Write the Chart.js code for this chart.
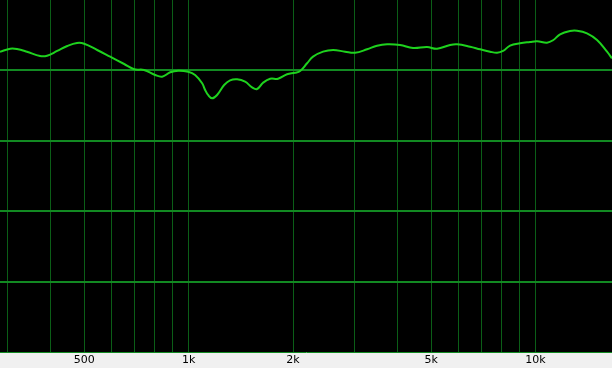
<!DOCTYPE html>
<html>
<head>
<meta charset="utf-8">
<script src="https://cdn.jsdelivr.net/npm/chart.js@4.4.0/dist/chart.umd.min.js"></script>
<style>
  html, body { margin: 0; padding: 0; background: #f0f0f0; }
  canvas { display: block; }
</style>
</head>
<body>
<canvas id="chart-resposta" width="612" height="368"></canvas>
<script>
// frequencias (Hz) e nivel (dB)
const freqs = [286, 306, 320, 342, 373, 391, 418, 447, 477, 500, 545, 594, 652, 697, 744,
  801, 839, 885, 933, 997, 1044, 1094, 1116, 1138, 1169, 1208, 1266, 1317, 1380, 1455,
  1524, 1575, 1639, 1718, 1811, 1922, 2027, 2096, 2195, 2284, 2441, 2609, 2825, 3018,
  3269, 3493, 3733, 4070, 4436, 4868, 5202, 5671, 5940, 6477, 6921, 7394, 7747, 8061,
  8444, 9022, 9641, 10100, 10790, 11230, 11770, 12570, 13170, 14070, 15040, 16070, 16610];
const nivel = [42.66, 43.08, 43.04, 42.66, 42.05, 42.09, 42.76, 43.47, 43.89, 43.79, 42.90,
  41.95, 40.91, 40.16, 40.06, 39.35, 39.11, 39.73, 39.96, 39.81, 39.35, 38.17, 37.22, 36.51,
  36.04, 36.51, 37.93, 38.59, 38.74, 38.39, 37.60, 37.36, 38.25, 38.82, 38.82, 39.45, 39.67,
  39.91, 41.01, 41.95, 42.66, 42.90, 42.66, 42.51, 43.00, 43.51, 43.71, 43.61, 43.18, 43.32,
  43.08, 43.61, 43.71, 43.37, 43.00, 42.66, 42.51, 42.76, 43.51, 43.85, 44.03, 44.13, 43.94,
  44.28, 45.13, 45.60, 45.64, 45.27, 44.32, 42.66, 41.72];

const ticksX = [300, 400, 500, 600, 700, 800, 900, 1000, 2000, 3000, 4000, 5000, 6000,
  7000, 8000, 9000, 10000];
const rotulosX = { 500: '500', 1000: '1k', 2000: '2k', 5000: '5k', 10000: '10k' };
const ticksY = [10, 20, 30, 40];

const fundo = {
  id: 'fundo',
  beforeDraw(chart) {
    const ctx = chart.ctx;
    const a = chart.chartArea;
    ctx.save();
    ctx.fillStyle = '#f0f0f0';
    ctx.fillRect(0, 0, chart.width, chart.height);
    ctx.fillStyle = '#000000';
    ctx.fillRect(a.left, a.top, a.right - a.left, a.bottom - a.top);
    ctx.restore();
  }
};

const configResposta = {
  type: 'line',
  data: {
    datasets: [{
      data: freqs.map((f, i) => ({ x: f, y: nivel[i] })),
      borderColor: '#1ed21e',
      borderWidth: 2,
      pointRadius: 0,
      tension: 0.4,
      fill: false
    }]
  },
  options: {
    responsive: false,
    animation: false,
    layout: { padding: 0 },
    plugins: {
      legend: { display: false },
      tooltip: { enabled: false }
    },
    scales: {
      x: {
        type: 'logarithmic',
        min: 286,
        max: 16610,
        afterBuildTicks: (scale) => { scale.ticks = ticksX.map(v => ({ value: v })); },
        afterFit: (scale) => { scale.height = 16; },
        grid: { color: '#0b5e17', lineWidth: 1, drawTicks: false },
        border: { color: '#128a22', width: 1 },
        ticks: {
          autoSkip: false,
          maxRotation: 0,
          padding: 2,
          color: '#000000',
          font: { family: 'DejaVu Sans', size: 11 },
          callback: (value) => rotulosX[value] || ''
        }
      },
      y: {
        min: 0,
        max: 50,
        afterBuildTicks: (scale) => { scale.ticks = ticksY.map(v => ({ value: v })); },
        afterFit: (scale) => { scale.width = 0; },
        grid: { color: '#128a22', lineWidth: 2, drawTicks: false },
        border: { display: false },
        ticks: { display: false }
      }
    }
  },
  plugins: [fundo]
};

const graficoResposta = new Chart(
  document.getElementById('chart-resposta'),
  configResposta
);
</script>
</body>
</html>
